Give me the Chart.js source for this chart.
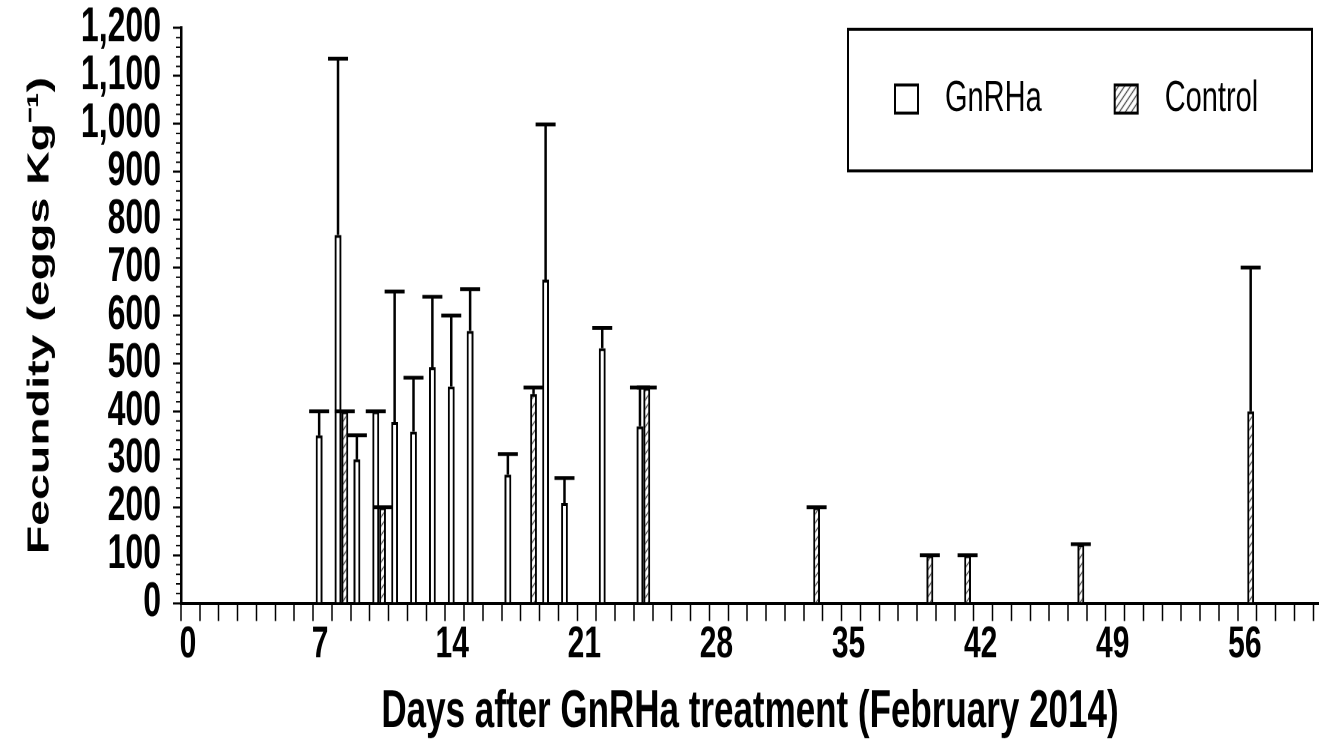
<!DOCTYPE html>
<html>
<head>
<meta charset="utf-8">
<title>Fecundity after GnRHa treatment</title>
<script src="https://cdn.jsdelivr.net/npm/chart.js@4.4.1/dist/chart.umd.min.js"></script>
<style>
  html, body { margin: 0; padding: 0; background: #fff; width: 1319px; height: 748px; overflow: hidden; }
  #page { width: 1319px; height: 748px; overflow: hidden; }
  /* the source figure is stretched vertically, so the canvas is stretched the same way */
  #wrap { width: 1319px; height: 499px; transform: scaleY(1.499); transform-origin: 0 0; }
</style>
</head>
<body>
<div id="page"><div id="wrap"><canvas id="grafico" width="1319" height="499"></canvas></div></div>
<script>
// GnRHa group: day, mean fecundity, upper error
const gnrhaDays = [7, 8, 9, 10, 11, 12, 13, 14, 15, 17, 19, 20, 22, 24];
const gnrhaMean = [350, 768, 300, 400, 378, 358, 492, 452, 568, 268, 675, 209, 532, 369];
const gnrhaErr  = [50, 368, 50, 0, 272, 112, 147, 148, 87, 43, 324, 52, 42, 81];

// Control group
const controlDays = [8, 10, 18, 24, 33, 39, 41, 47, 56];
const controlMean = [400, 200, 436, 449, 200, 100, 100, 123, 400];
const controlErr  = [0, 0, 14, 1, 0, 0, 0, 0, 300];

const xLabels = [0, 7, 14, 21, 28, 35, 42, 49, 56];
const yMinorStep = 20;

const FONT = '"Liberation Sans", Arial, Helvetica, sans-serif';

function hatch() {
    const c = document.createElement('canvas');
    c.width = 6; c.height = 6;
    const g = c.getContext('2d');
    g.fillStyle = '#fff'; g.fillRect(0, 0, 6, 6);
    g.strokeStyle = '#000'; g.lineWidth = 1;
    g.beginPath();
    g.moveTo(0, 6); g.lineTo(6, 0);
    g.moveTo(-1, 1); g.lineTo(1, -1);
    g.moveTo(5, 7); g.lineTo(7, 5);
    g.stroke();
    return g.createPattern(c, 'repeat');
}

// bars sit in the middle of their day interval, like in the original
const toPoints = (days, vals) => days.map((d, i) => ({ x: d + 0.5, y: vals[i] }));

const minorTicks = {
    id: 'minorTicks',
    afterDraw(chart) {
        const y = chart.scales.y, ctx = chart.ctx, x0 = chart.chartArea.left;
        ctx.save();
        ctx.strokeStyle = '#000'; ctx.lineWidth = 1;
        for (let v = yMinorStep; v < y.max; v += yMinorStep) {
            if (v % 100 === 0) continue;
            const py = y.getPixelForValue(v);
            ctx.beginPath(); ctx.moveTo(x0 - 5, py); ctx.lineTo(x0, py); ctx.stroke();
        }
        ctx.restore();
    }
};

const errorBars = {
    id: 'errorBars',
    afterDatasetsDraw(chart) {
        const ctx = chart.ctx, y = chart.scales.y;
        ctx.save();
        ctx.strokeStyle = '#000';
        ctx.lineWidth = 2.5;
        chart.data.datasets.forEach((ds, i) => {
            chart.getDatasetMeta(i).data.forEach((bar, j) => {
                const top = y.getPixelForValue(ds.data[j].y + ds.errors[j]);
                ctx.beginPath(); ctx.moveTo(bar.x, bar.y); ctx.lineTo(bar.x, top); ctx.stroke();
                ctx.beginPath(); ctx.moveTo(bar.x - 10, top); ctx.lineTo(bar.x + 10, top); ctx.stroke();
            });
        });
        ctx.restore();
    }
};

const boxLegend = {
    id: 'boxLegend',
    afterDraw(chart) {
        const ctx = chart.ctx;
        ctx.save();
        ctx.strokeStyle = '#000'; ctx.lineWidth = 2;
        ctx.strokeRect(848, 19.5, 464, 94.5);
        ctx.font = '29px ' + FONT;
        ctx.textBaseline = 'middle';
        let x = 895;
        chart.data.datasets.forEach(ds => {
            ctx.fillStyle = ds.backgroundColor;
            ctx.fillRect(x, 56.7, 23, 18.7);
            ctx.strokeRect(x, 56.7, 23, 18.7);
            ctx.fillStyle = '#000';
            ctx.fillText(ds.label, x + 50, 66);
            x += 50 + ctx.measureText(ds.label).width + 73;
        });
        ctx.restore();
    }
};

new Chart(document.getElementById('grafico'), {
    type: 'bar',
    data: {
        datasets: [
            { label: 'GnRHa', data: toPoints(gnrhaDays, gnrhaMean), errors: gnrhaErr,
              backgroundColor: '#fff', borderColor: '#000', borderWidth: 2 },
            { label: 'Control', data: toPoints(controlDays, controlMean), errors: controlErr,
              backgroundColor: hatch(), borderColor: '#000', borderWidth: 2 }
        ]
    },
    options: {
        responsive: false,
        animation: false,
        devicePixelRatio: 2,
        categoryPercentage: 0.72,
        barPercentage: 1,
        layout: { padding: { top: 18.7, right: 0, bottom: 0, left: 0 } },
        plugins: { legend: { display: false }, tooltip: { enabled: false } },
        scales: {
            x: {
                type: 'linear', min: 0, max: 60.3, offset: false,
                grid: { drawOnChartArea: false, offset: false, tickLength: 12, tickColor: '#000', tickWidth: 1.5 },
                border: { color: '#000', width: 2 },
                ticks: {
                    stepSize: 1, autoSkip: false, includeBounds: false, maxRotation: 0,
                    labelOffset: 7, padding: 1, color: '#000',
                    font: { family: FONT, size: 30, weight: 'bold', lineHeight: 1 },
                    callback: v => xLabels.includes(v) ? v : ''
                },
                title: {
                    display: true, text: 'Days after GnRHa treatment (February 2014)', color: '#000',
                    font: { family: FONT, size: 35, weight: 'bold', lineHeight: 1 },
                    padding: { top: 0, bottom: 6 }
                },
                afterFit: s => { s.height = 96.7; s.paddingLeft = 0; s.paddingRight = 0; }
            },
            y: {
                min: 0, max: 1200,
                grid: { drawOnChartArea: false, tickLength: 8, tickColor: '#000', tickWidth: 1.5 },
                border: { color: '#000', width: 2.5 },
                ticks: {
                    stepSize: 100, autoSkip: false, padding: 12, color: '#000',
                    font: { family: FONT, size: 32, weight: 'bold', lineHeight: 1 }
                },
                title: {
                    display: true, text: 'Fecundity (eggs Kg⁻¹)', color: '#000',
                    font: { family: FONT, size: 31, weight: 'bold', lineHeight: 1 },
                    padding: { top: 24.5, bottom: 0 }
                },
                afterFit: s => { s.width = 181; s.paddingTop = 0; s.paddingBottom = 0; }
            }
        }
    },
    plugins: [minorTicks, errorBars, boxLegend]
});
</script>
</body>
</html>
